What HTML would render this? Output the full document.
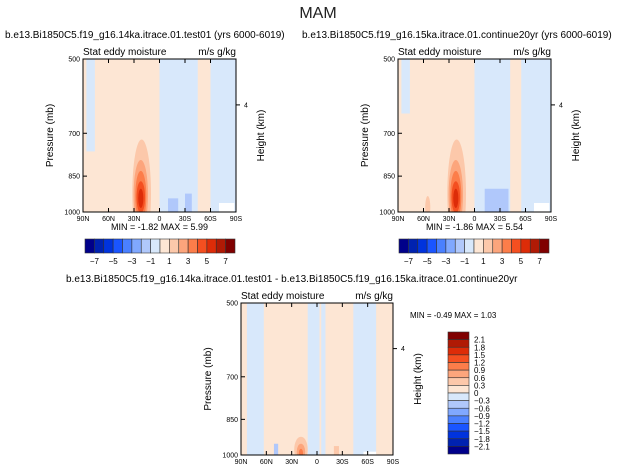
<!DOCTYPE html>
<html><head><meta charset="utf-8"><style>
body{margin:0;background:#fff;}
svg{display:block;font-family:"Liberation Sans",sans-serif;}
</style></head><body>
<svg id="chart" width="636" height="474" viewBox="0 0 636 474">
<text x="318" y="18" text-anchor="middle" font-size="16" fill="#222">MAM</text>
<g id="root"></g>
</svg>
<script>
const latTicks=[90,60,30,0,-30,-60,-90];
const latLabels=["90N","60N","30N","0","30S","60S","90S"];
const presTicks=[500,700,850,1000];
const levelsTop=["-7","-5","-3","-1","1","3","5","7"];
const levelsBot=["2.1","1.8","1.5","1.2","0.9","0.6","0.3","0","-0.3","-0.6","-0.9","-1.2","-1.5","-1.8","-2.1"];
const palette=["#00008a","#0022b0","#0033dd","#1a55ff","#4a80ff","#80a8ff","#b0c8fb","#d8e8fb","#fde6d4","#fcc8aa","#fca57c","#fc7d4a","#f44f20","#dd2c08","#b01a05","#800000"];
// bands: [latFrom, latTo, pTop, pBottom, colorIndex]
const bandsA=[[86,76,500,760,7],[0,-45,500,1000,7],[-60,-90,500,1000,7],[-70,-88,960,1000,-1],[-10,-22,940,1000,6],[-30,-38,920,1000,6]];
const bandsB=[[86,76,500,640,7],[0,-42,500,1000,7],[-55,-90,500,1000,7],[-70,-88,960,1000,-1],[-12,-40,900,1000,6],[8,2,500,560,8]];
const bandsC=[[83,63,500,1000,7],[11,-3,500,1000,7],[-5,-10,500,1000,7],[-43,-70,500,1000,7],[-55,-70,985,1000,-1],[51,46,950,1000,6],[-20,-26,960,1000,9]];
// blobs: [centerLat, centerP, halfLat, pTop, level]
const blobsA=[[21,920,11,720,9],[22,925,8.5,790,10],[22,930,6.5,830,11],[22,935,5,870,12],[22,940,3,900,13]];
const blobsB=[[21,920,11,720,9],[22,925,8.5,790,10],[22,930,6.5,830,11],[22,935,5,870,12],[22,940,3,900,13],[55,980,3,930,9]];
const blobsC=[[19,975,8,920,9],[19,985,5,950,10],[19,992,2.5,972,11]];
const root=document.getElementById('root');
const NS='http://www.w3.org/2000/svg';
function mk(t,a,p){const e=document.createElementNS(NS,t);for(const k in a)e.setAttribute(k,a[k]);(p||root).appendChild(e);return e;}
let clipId=0;
function panel(x0,y0,w,h,bands,blobs,title,title2,minmax,base){
  const g=mk('g',{});
  
  
  const X=lat=>x0+(90-lat)/180*w;
  const Y=p=>y0+(Math.log(p)-Math.log(500))/(Math.log(1000)-Math.log(500))*h;
  const cid='c'+(clipId++);
  const cp=mk('clipPath',{id:cid},g);mk('rect',{x:x0,y:y0,width:w,height:h},cp);
  const f=mk('g',{'clip-path':'url(#'+cid+')'},g);
  mk('rect',{x:x0,y:y0,width:w,height:h,fill:palette[base]},f);
  bands.forEach(b=>{const r=mk('rect',{x:X(b[0]),y:Y(b[2]),width:X(b[1])-X(b[0]),height:Y(b[3])-Y(b[2]),fill:b[4]<0?'#fff':palette[b[4]]},f);
    });
  blobs.forEach(b=>{const cy=Y(b[1]),ry=cy-Y(b[3]);
    const e=mk('ellipse',{cx:X(b[0]),cy:cy,rx:X(b[0]-b[2])-X(b[0]),ry:ry,fill:palette[b[4]]},f);
    });
  mk('rect',{x:x0,y:y0,width:w,height:h,fill:'none',stroke:'#000','stroke-width':1},g);
  latTicks.forEach((l,i)=>{mk('line',{x1:X(l),x2:X(l),y1:y0+h,y2:y0+h-4,stroke:'#000'},g);mk('line',{x1:X(l),x2:X(l),y1:y0,y2:y0+4,stroke:'#000'},g);
    const t=mk('text',{x:X(l),y:y0+h+9,'text-anchor':'middle','font-size':7},g);t.textContent=latLabels[i];
    });
  presTicks.forEach(p=>{mk('line',{x1:x0,x2:x0+4,y1:Y(p),y2:Y(p),stroke:'#000'},g);
    const t=mk('text',{x:x0-3,y:Y(p)+2.5,'text-anchor':'end','font-size':7},g);t.textContent=p;
    });
  const y4=y0+h*0.3;mk('line',{x1:x0+w,x2:x0+w+4,y1:y4,y2:y4,stroke:'#000'},g);
  let t=mk('text',{x:x0+w+8,y:y4+2.5,'font-size':7},g);t.textContent='4';
  t=mk('text',{transform:`translate(${x0-30},${y0+h/2}) rotate(-90)`,'text-anchor':'middle','font-size':10},g);t.textContent='Pressure (mb)';
  
  t=mk('text',{transform:`translate(${x0+w+28},${y0+h/2}) rotate(-90)`,'text-anchor':'middle','font-size':10},g);t.textContent='Height (km)';
  
  t=mk('text',{x:x0,y:y0-4,'font-size':10},g);t.textContent='Stat eddy moisture';
  t=mk('text',{x:x0+w,y:y0-4,'font-size':10,'text-anchor':'end'},g);t.textContent='m/s g/kg';
  t=mk('text',{x:title2,y:y0-21,'font-size':10},g);t.textContent=title;
  
  if(minmax){t=mk('text',{x:x0+w/2,y:y0+h+18,'font-size':9,'text-anchor':'middle','xml:space':'preserve'},g);t.textContent=minmax;}
}
panel(83,59,153,153,bandsA,blobsA,"b.e13.Bi1850C5.f19_g16.14ka.itrace.01.test01 (yrs 6000-6019)",5,"MIN =  -1.82   MAX =   5.99",8);
panel(398,59,153,153,bandsB,blobsB,"b.e13.Bi1850C5.f19_g16.15ka.itrace.01.continue20yr (yrs 6000-6019)",302,"MIN =  -1.86   MAX =   5.54",8);
panel(241,303,152,152,bandsC,blobsC,"b.e13.Bi1850C5.f19_g16.14ka.itrace.01.test01 - b.e13.Bi1850C5.f19_g16.15ka.itrace.01.continue20yr",66,null,8);
function hbar(x0,y0,w,h){
  const g=mk('g',{});
  const bw=w/palette.length;
  palette.forEach((c,i)=>{mk('rect',{x:x0+i*bw,y:y0,width:bw,height:h,fill:c,stroke:'#333','stroke-width':0.6},g);});
  levelsTop.forEach((l,i)=>{const t=mk('text',{x:x0+(1+2*i)*bw,y:y0+h+11,'font-size':8,'text-anchor':'middle'},g);t.textContent=l.replace('-','−');});
}
hbar(85,239,150,14);hbar(399,239,150,14);
(function(){
  const x0=448,y0=332,w=21,h=122,bh=h/palette.length;
  const g=mk('g',{});
  palette.slice().reverse().forEach((c,i)=>{mk('rect',{x:x0,y:y0+i*bh,width:w,height:bh,fill:c,stroke:'#333','stroke-width':0.6},g);});
  levelsBot.forEach((l,i)=>{const t=mk('text',{x:x0+w+5,y:y0+(i+1)*bh+3,'font-size':8},g);t.textContent=l.replace('-','−');});
  const t=mk('text',{x:410,y:318,'font-size':8,'xml:space':'preserve'},g);t.textContent='MIN =  -0.49   MAX =   1.03';
})();
</script>
</body></html>
